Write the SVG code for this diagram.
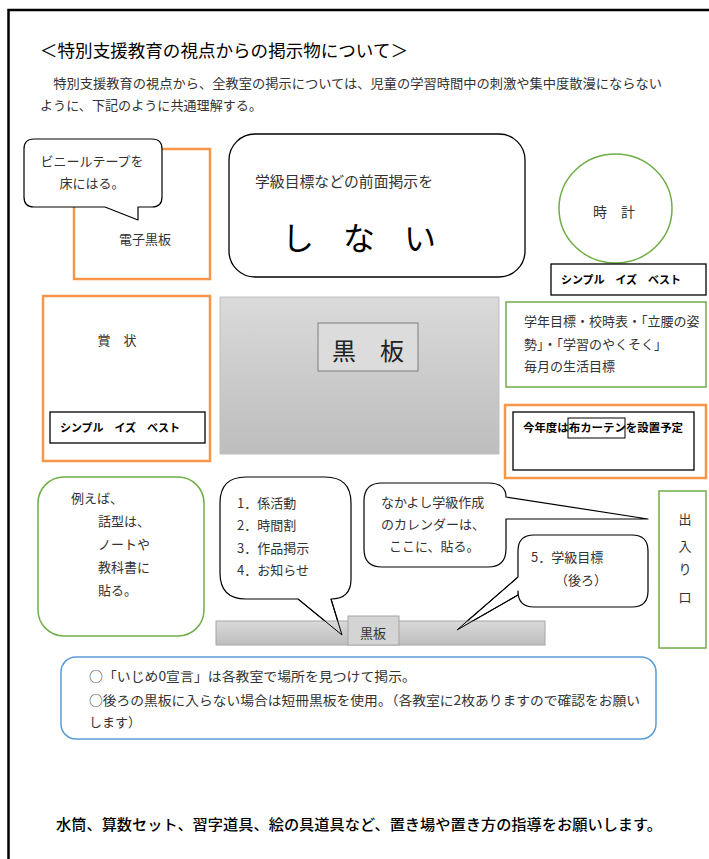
<svg xmlns="http://www.w3.org/2000/svg" width="709" height="859" viewBox="0 0 709 859">
<defs>
<style>
text{font-family:"Noto Sans CJK JP","Noto Sans CJK SC",sans-serif;fill:#333;}
.t{font-size:13px;}
.b{font-size:11px;font-weight:bold;fill:#000;}
.ln{fill:#fff;stroke:#000;stroke-width:1.3;}
.or{fill:#fff;stroke:#f79646;stroke-width:2.5;}
.gr{fill:#fff;stroke:#70ad47;stroke-width:1.5;}
.bub{fill:#fff;stroke:#000;stroke-width:1.2;stroke-linejoin:round;}
</style>
<linearGradient id="bb" x1="0" y1="0" x2="0" y2="1">
<stop offset="0" stop-color="#dadada"/>
<stop offset="1" stop-color="#bdbdbd"/>
</linearGradient>
</defs>
<rect width="709" height="859" fill="#fff"/>
<g id="frame">
<path d="M8.5 859 V10 H709" fill="none" stroke="#000" stroke-width="2.5"/>
</g>
<g id="header">
<text x="40" y="57" style="font-size:17px;fill:#000" textLength="368" lengthAdjust="spacingAndGlyphs">＜特別支援教育の視点からの掲示物について＞</text>
<text class="t" x="40" y="88" textLength="622" lengthAdjust="spacingAndGlyphs">　特別支援教育の視点から、全教室の掲示については、児童の学習時間中の刺激や集中度散漫にならない</text>
<text class="t" x="40" y="110" textLength="222" lengthAdjust="spacingAndGlyphs">ように、下記のように共通理解する。</text>
</g>
<g id="denshi-kokuban">
<rect class="or" x="74" y="149" width="136" height="130"/>
<text class="t" x="145" y="244" text-anchor="middle">電子黒板</text>
</g>
<g id="bubble-tape">
<path class="bub" d="M34 139 H152 Q162 139 162 149 V197 Q162 207 152 207 H138 V220 L105 207 H34 Q24 207 24 197 V149 Q24 139 34 139 Z"/>
<text class="t" x="92" y="166" text-anchor="middle">ビニールテープを</text>
<text class="t" x="92" y="188" text-anchor="middle">床にはる。</text>
</g>
<g id="front-notice">
<rect class="ln" x="229" y="134" width="296" height="143" rx="26"/>
<text x="255" y="187" style="font-size:14.5px" textLength="178" lengthAdjust="spacingAndGlyphs">学級目標などの前面掲示を</text>
<text x="282" y="250" style="font-size:32px;fill:#000" textLength="154" lengthAdjust="spacing">し な い</text>
</g>
<g id="clock">
<ellipse class="gr" cx="615.5" cy="208.5" rx="56.5" ry="54.5"/>
<text x="614" y="217" text-anchor="middle" style="font-size:14px">時　計</text>
</g>
<g id="simple-right">
<rect class="ln" x="551" y="264" width="155" height="31"/>
<text class="b" x="561" y="284" textLength="120" lengthAdjust="spacing">シンプル　イズ　ベスト</text>
</g>
<g id="shoujou">
<rect class="or" x="43" y="296" width="167" height="165"/>
<text class="t" x="117" y="345" text-anchor="middle">賞　状</text>
<rect class="ln" x="50" y="412" width="155" height="31"/>
<text class="b" x="60" y="432" textLength="120" lengthAdjust="spacing">シンプル　イズ　ベスト</text>
</g>
<g id="kokuban-main">
<rect x="220" y="297" width="279" height="157" fill="url(#bb)" stroke="#bfbfbf" stroke-width="1"/>
<rect x="318" y="323" width="100" height="48" fill="#dcdcdc" stroke="#7f7f7f" stroke-width="1"/>
<text x="368" y="360" text-anchor="middle" style="font-size:24px;fill:#222">黒　板</text>
</g>
<g id="mokuhyou">
<rect class="gr" x="506" y="302" width="200" height="85"/>
<text class="t" x="524" y="326">学年目標・校時表・「立腰の姿</text>
<text class="t" x="524" y="349">勢」・「学習のやくそく」</text>
<text class="t" x="524" y="371">毎月の生活目標</text>
</g>
<g id="curtain">
<rect class="or" x="505" y="405" width="201" height="73"/>
<rect class="ln" x="513" y="412" width="181" height="58"/>
<text class="b" x="523" y="432" textLength="160" lengthAdjust="spacingAndGlyphs">今年度は布カーテンを設置予定</text>
<rect x="568" y="418" width="57" height="20" fill="none" stroke="#000" stroke-width="1"/>
</g>
<g id="example">
<rect class="gr" x="38" y="477" width="166" height="159" rx="26"/>
<text class="t" x="71" y="503">例えば、</text>
<text class="t" x="98" y="526">話型は、</text>
<text class="t" x="98" y="549">ノートや</text>
<text class="t" x="98" y="572">教科書に</text>
<text class="t" x="98" y="595">貼る。</text>
</g>
<g id="bubble-list">
<path class="bub" d="M246 477 H325 Q351 477 351 503 V579 Q351 599 331 599 L342 635 L298 599 H246 Q220 599 220 573 V503 Q220 477 246 477 Z"/>
<text class="t" x="237" y="508">1．係活動</text>
<text class="t" x="237" y="530">2．時間割</text>
<text class="t" x="237" y="553">3．作品掲示</text>
<text class="t" x="237" y="575">4．お知らせ</text>
</g>
<g id="bubble-calendar">
<path class="bub" d="M382 483 H488 Q506 483 506 497 L648 519 H506 V549 Q506 567 488 567 H382 Q364 567 364 549 V501 Q364 483 382 483 Z"/>
<text class="t" x="381" y="507">なかよし学級作成</text>
<text class="t" x="381" y="529">のカレンダーは、</text>
<text class="t" x="389" y="551">ここに、貼る。</text>
</g>
<g id="bubble-goal">
<path class="bub" d="M534 535 H632 Q648 535 648 551 V591 Q648 607 632 607 H534 Q518 607 518 591 V595 L457 630 L518 577 V551 Q518 535 534 535 Z"/>
<text class="t" x="531" y="562">5．学級目標</text>
<text class="t" x="555" y="585">（後ろ）</text>
</g>
<g id="entrance">
<rect class="gr" x="659" y="491" width="47" height="157"/>
<text class="t" x="685" y="524" text-anchor="middle">出</text>
<text class="t" x="685" y="551" text-anchor="middle">入</text>
<text class="t" x="685" y="574" text-anchor="middle">り</text>
<text class="t" x="685" y="602" text-anchor="middle">口</text>
</g>
<g id="kokuban-back">
<rect x="216" y="621" width="329" height="24" fill="url(#bb)" stroke="#a6a6a6" stroke-width="1"/>
<rect x="348" y="616" width="51" height="29" fill="#d4d4d4" stroke="#a6a6a6" stroke-width="1"/>
<text x="373" y="638" text-anchor="middle" style="font-size:13px">黒板</text>
</g>
<g id="connectors">
<path d="M342 635 L298 599 M342 635 L331 599 M457 630 L518 577 M457 630 L518 595" fill="none" stroke="#000" stroke-width="1"/>
</g>
<g id="note">
<rect x="61" y="657" width="595" height="82" rx="15" fill="#fff" stroke="#5b9bd5" stroke-width="1.5"/>
<text class="t" x="89" y="681" textLength="327" lengthAdjust="spacingAndGlyphs">○「いじめ0宣言」は各教室で場所を見つけて掲示。</text>
<text class="t" x="89" y="705" textLength="551" lengthAdjust="spacingAndGlyphs">○後ろの黒板に入らない場合は短冊黒板を使用。（各教室に2枚ありますので確認をお願い</text>
<text class="t" x="89" y="727">します）</text>
</g>
<g id="footer">
<text x="56" y="830" style="font-size:14.5px;fill:#000;font-weight:500" textLength="606" lengthAdjust="spacingAndGlyphs">水筒、算数セット、習字道具、絵の具道具など、置き場や置き方の指導をお願いします。</text>
</g>
</svg>
